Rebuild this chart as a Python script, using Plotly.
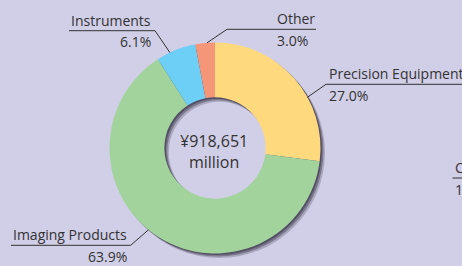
import math
import plotly.graph_objects as go

# ---- data ----
categories = ["Precision Equipment", "Imaging Products", "Instruments", "Other"]
shares = [27.0, 63.9, 6.1, 3.0]
total_text = "¥918,651"
total_unit = "million"
colors = ["#FFD97E", "#A3D39C", "#6DCFF6", "#F69679"]

# ---- layout constants (pixels) ----
W, H = 462, 266
CX, CY, R = 215, 148, 105.5
HOLE = 0.48
BG = "#D1CEE7"
TXT = "#333333"
FONT = "Open Sans"

def px(x):
    return x / W

def py(y):
    return 1 - y / H

def dom(dx=0.0, dy=0.0):
    return dict(x=[px(CX - R + dx), px(CX + R + dx)],
                y=[py(CY + R + dy), py(CY - R + dy)])

fig = go.Figure()

# soft drop shadow rings
for off, op in [(4.5, 0.22), (3.0, 0.35), (1.5, 0.45)]:
    fig.add_trace(go.Pie(values=[1], hole=HOLE, sort=False, domain=dom(off, off),
                         marker=dict(colors=[f"rgba(35,32,50,{op})"]),
                         textinfo="none", hoverinfo="skip", showlegend=False))

fig.add_trace(go.Pie(labels=categories, values=shares, hole=HOLE, sort=False,
                     direction="clockwise", rotation=0, domain=dom(),
                     marker=dict(colors=colors, line=dict(width=0)),
                     textinfo="none", hoverinfo="label+percent", showlegend=False))

# label styling: anchor position along slice, elbow point, underline end, text x, alignment
label_style = {
    "Precision Equipment": dict(pos=0.63, elbow=(326, 84.3), end=470, tx=327, align="left"),
    "Imaging Products": dict(pos=0.53, elbow=(130.7, 245.3), end=11, tx=129, align="right"),
    "Instruments": dict(pos=0.34, elbow=(155, 30.7), end=69, tx=153, align="right"),
    "Other": dict(pos=0.6, elbow=(227, 29.3), end=316, tx=274.5, align="left"),
}

total = sum(shares)
cum = 0.0
shapes = []
annotations = []
for cat, v in zip(categories, shares):
    st = label_style[cat]
    theta = math.radians(360 * (cum + st["pos"] * v) / total)
    ax = CX + R * math.sin(theta)
    ay = CY - R * math.cos(theta)
    ex, ey = st["elbow"]
    path = f"M {px(ax)},{py(ay)} L {px(ex)},{py(ey)} L {px(st['end'])},{py(ey)}"
    shapes.append(dict(type="path", xref="paper", yref="paper", path=path,
                       line=dict(color="#333333", width=1)))
    xa = "left" if st["align"] == "left" else "right"
    annotations.append(dict(text=cat, x=px(st["tx"]), y=py(ey - 10.5), xref="paper", yref="paper",
                            xanchor=xa, yanchor="middle", showarrow=False,
                            font=dict(family=FONT, size=14, color=TXT)))
    annotations.append(dict(text=f"{v:.1f}%", x=px(st["tx"]), y=py(ey + 11), xref="paper", yref="paper",
                            xanchor=xa, yanchor="middle", showarrow=False,
                            font=dict(family=FONT, size=14, color=TXT)))
    cum += v

# center total
annotations.append(dict(text=f"{total_text}<br>{total_unit}", x=px(CX - 1), y=py(CY + 3.5),
                        xref="paper", yref="paper", xanchor="center", yanchor="middle",
                        showarrow=False, font=dict(family=FONT, size=16, color=TXT)))

# fragment of neighbouring chart at the right edge
shapes.append(dict(type="line", xref="paper", yref="paper", x0=px(452.5), x1=px(470),
                   y0=py(178), y1=py(178), line=dict(color="#333333", width=1)))
annotations.append(dict(text="C", x=px(453), y=py(167.5), xref="paper", yref="paper",
                        xanchor="left", yanchor="middle", showarrow=False,
                        font=dict(family=FONT, size=14, color=TXT)))
annotations.append(dict(text="1", x=px(453), y=py(189), xref="paper", yref="paper",
                        xanchor="left", yanchor="middle", showarrow=False,
                        font=dict(family=FONT, size=14, color=TXT)))

fig.update_layout(width=W, height=H, margin=dict(l=0, r=0, t=0, b=0),
                  paper_bgcolor=BG, plot_bgcolor=BG, showlegend=False,
                  shapes=shapes, annotations=annotations)

fig.write_html("out.html", config={"displayModeBar": False},
               post_script="document.body.style.margin='0';document.body.style.overflow='hidden';")
